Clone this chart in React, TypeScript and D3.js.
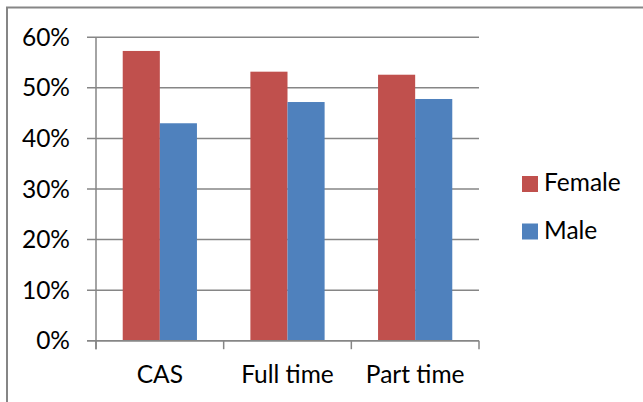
import { useEffect, useRef } from "react";
import * as d3 from "d3";

const WIDTH = 643;
const HEIGHT = 402;

const categories = ["CAS", "Full time", "Part time"];
const seriesNames = ["Female", "Male"];
const female = [0.573, 0.532, 0.526];
const male = [0.43, 0.472, 0.478];
const yTicks = [0, 0.1, 0.2, 0.3, 0.4, 0.5, 0.6];

const COLORS = ["#C0504D", "#4F81BD"];
const GRID = "#868686";
const FONT = "Lato, 'Open Sans', sans-serif";
const FONT_SIZE = 24.5;
const PLOT = { left: 96, right: 479, top: 37.3, bottom: 340.7 };

export default function App() {
  const svgRef = useRef<SVGSVGElement | null>(null);

  useEffect(() => {
    if (!svgRef.current) return;
    const svg = d3.select(svgRef.current);
    svg.selectAll("*").remove();

    // outer chart border (only top + left edges show in the picture)
    svg
      .append("path")
      .attr("d", `M7,${HEIGHT} L7,7.5 L${WIDTH},7.5`)
      .attr("fill", "none")
      .attr("stroke", GRID)
      .attr("stroke-width", 2);

    const x0 = d3
      .scaleBand<string>()
      .domain(categories)
      .range([PLOT.left, PLOT.right]);
    // gap width ~150% like Excel
    const x1 = d3
      .scaleBand<string>()
      .domain(seriesNames)
      .range([0, x0.bandwidth()])
      .paddingInner(0)
      .paddingOuter(0.72);
    const y = d3.scaleLinear().domain([0, 0.6]).range([PLOT.bottom, PLOT.top]);

    // gridlines + y labels
    const yAxis = svg.append("g");
    yAxis
      .selectAll("line")
      .data(yTicks)
      .join("line")
      .attr("x1", PLOT.left - 9)
      .attr("x2", PLOT.right)
      .attr("y1", (d) => y(d))
      .attr("y2", (d) => y(d))
      .attr("stroke", GRID)
      .attr("stroke-width", 1.5);
    yAxis
      .selectAll("text")
      .data(yTicks)
      .join("text")
      .attr("x", 70)
      .attr("y", (d) => y(d) + 8.5)
      .attr("text-anchor", "end")
      .attr("font-family", FONT)
      .attr("font-size", FONT_SIZE)
      .attr("fill", "#000")
      .text((d) => d3.format(".0%")(d));

    // bars
    const rows = categories.map((c, i) => ({ c, vals: [female[i], male[i]] }));
    const groups = svg
      .append("g")
      .selectAll("g")
      .data(rows)
      .join("g")
      .attr("transform", (d) => `translate(${x0(d.c)},0)`);
    groups
      .selectAll("rect")
      .data((d) => d.vals.map((v, j) => ({ name: seriesNames[j], v, j })))
      .join("rect")
      .attr("x", (d) => x1(d.name)!)
      .attr("width", x1.bandwidth())
      .attr("y", (d) => y(d.v))
      .attr("height", (d) => PLOT.bottom - y(d.v))
      .attr("fill", (d) => COLORS[d.j]);

    // axis lines
    svg
      .append("line")
      .attr("x1", PLOT.left)
      .attr("x2", PLOT.left)
      .attr("y1", PLOT.top)
      .attr("y2", PLOT.bottom + 8.5)
      .attr("stroke", GRID)
      .attr("stroke-width", 1.5);
    svg
      .append("line")
      .attr("x1", PLOT.left - 9)
      .attr("x2", PLOT.right)
      .attr("y1", PLOT.bottom)
      .attr("y2", PLOT.bottom)
      .attr("stroke", GRID)
      .attr("stroke-width", 1.5);
    const xTickPos = [...categories.map((c) => x0(c)!), PLOT.right];
    svg
      .append("g")
      .selectAll("line")
      .data(xTickPos)
      .join("line")
      .attr("x1", (d) => d)
      .attr("x2", (d) => d)
      .attr("y1", PLOT.bottom)
      .attr("y2", PLOT.bottom + 8.5)
      .attr("stroke", GRID)
      .attr("stroke-width", 1.5);

    // x labels
    svg
      .append("g")
      .selectAll("text")
      .data(categories)
      .join("text")
      .attr("x", (d) => x0(d)! + x0.bandwidth() / 2)
      .attr("y", 383)
      .attr("text-anchor", "middle")
      .attr("font-family", FONT)
      .attr("font-size", FONT_SIZE)
      .attr("fill", "#000")
      .text((d) => d);

    // legend
    const legend = svg
      .append("g")
      .selectAll("g")
      .data(seriesNames)
      .join("g")
      .attr("transform", (_d, i) => `translate(522,${176 + i * 47.5})`);
    legend
      .append("rect")
      .attr("width", 16)
      .attr("height", 16)
      .attr("fill", (_d, i) => COLORS[i]);
    legend
      .append("text")
      .attr("x", 22)
      .attr("y", 15)
      .attr("font-family", FONT)
      .attr("font-size", FONT_SIZE)
      .attr("fill", "#000")
      .text((d) => d);
  }, []);

  return (
    <svg
      ref={svgRef}
      width={WIDTH}
      height={HEIGHT}
      style={{ position: "absolute", left: 0, top: 0, background: "#fff" }}
    />
  );
}
